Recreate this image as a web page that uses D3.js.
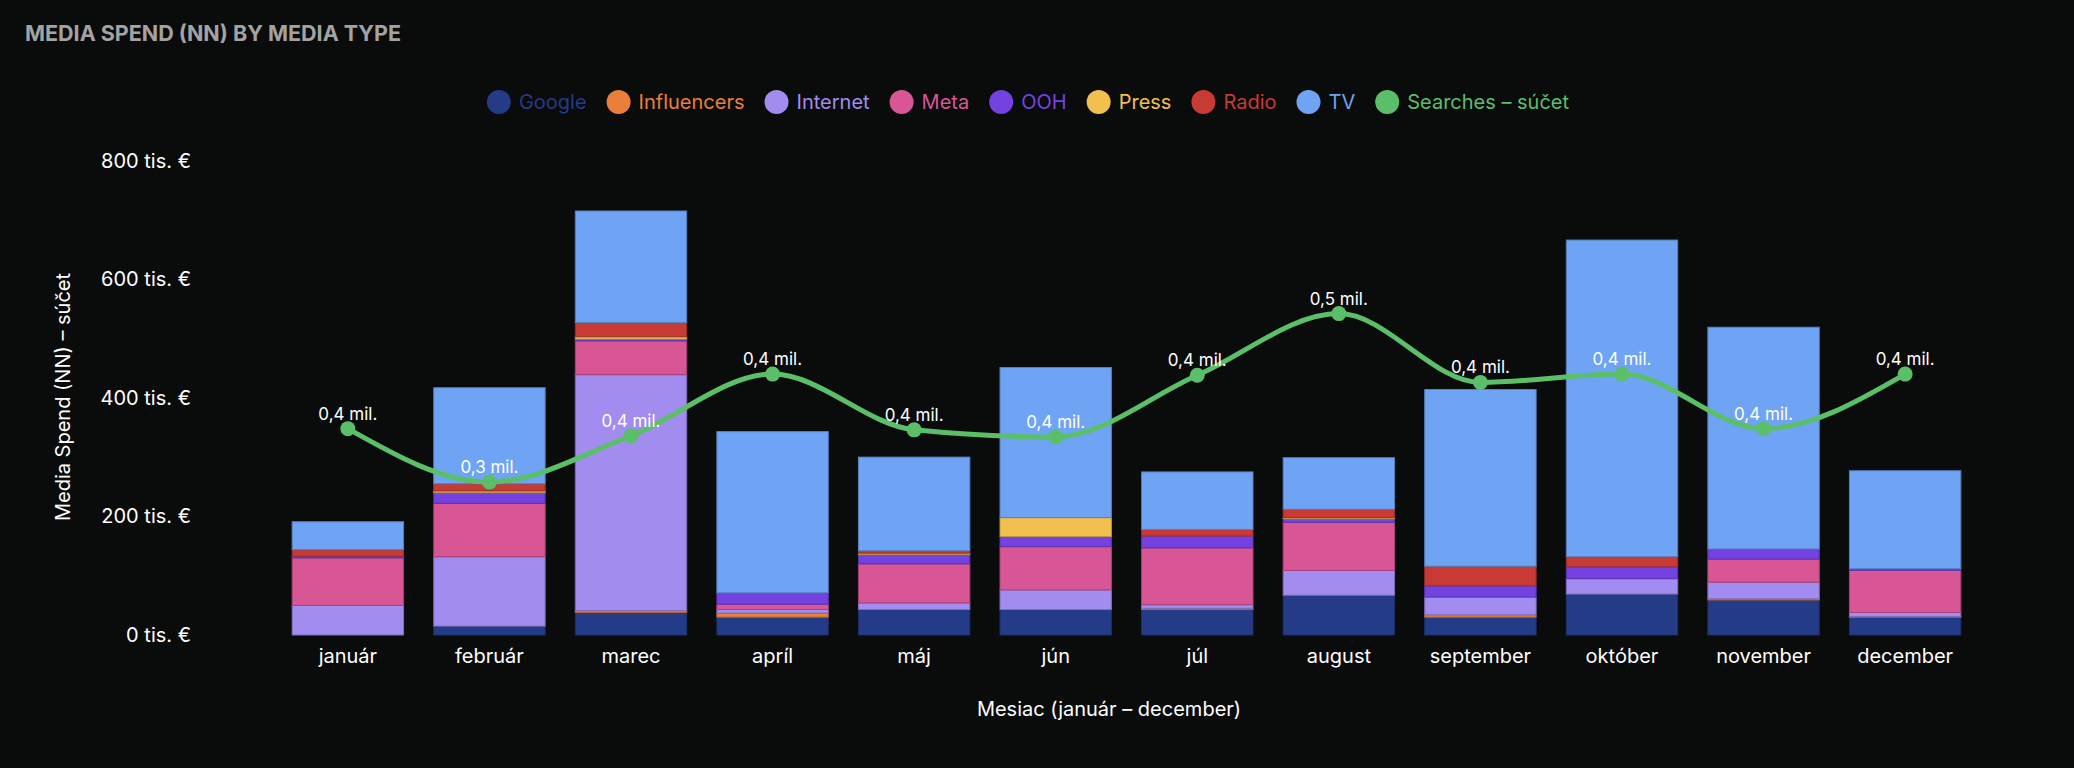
<!DOCTYPE html>
<html>
<head>
<meta charset="utf-8">
<script src="https://cdn.jsdelivr.net/npm/d3@7"></script>
<style>
  html, body { margin: 0; padding: 0; background: #0a0b0b; }
  svg { display: block; font-family: Inter, "Noto Sans", sans-serif; }
</style>
</head>
<body>
<div class="chart"></div>
<script>
(function () {
  var months = ['január', 'február', 'marec', 'apríl', 'máj', 'jún', 'júl', 'august', 'september', 'október', 'november', 'december'];

  // media spend in tis. €
  var google      = [0, 15, 38, 30, 43, 43, 43, 67, 30, 69, 59, 30];
  var influencers = [0, 0, 3, 7, 0, 0, 2, 0, 4, 0, 2, 1];
  var internet    = [50, 117, 398, 6, 11, 33, 6, 42, 30, 26, 28, 7];
  var meta        = [80, 90, 57, 9, 66, 73, 96, 81, 0, 0, 39, 71];
  var ooh         = [3, 18, 3, 19, 16, 17, 20, 6, 19, 20, 17, 3];
  var press       = [0, 3, 4, 0, 2, 32, 0, 2, 0, 0, 0, 0];
  var radio       = [11, 12, 24, 0, 4, 0, 11, 14, 33, 17, 0, 0];
  var tv          = [47, 162, 188, 272, 158, 253, 97, 87, 298, 534, 374, 165];

  // searches - súčet
  var searches = [374000, 329000, 368000, 420000, 373000, 367000, 419000, 471000, 413000, 420000, 374000, 420000];

  var yTicks = [0, 200, 400, 600, 800];

  var types = ['Google', 'Influencers', 'Internet', 'Meta', 'OOH', 'Press', 'Radio', 'TV'];
  var series = [google, influencers, internet, meta, ooh, press, radio, tv];
  var colors = ['#243c88', '#ea7f3a', '#a28cef', '#d85696', '#7442e0', '#f2c04e', '#c83a34', '#6fa4f4'];
  var lineColor = '#5bbf6a';

  var rows = months.map(function (m, i) {
    var r = { month: m };
    types.forEach(function (t, k) { r[t] = series[k][i]; });
    return r;
  });

  var svg = d3.select('.chart').append('svg')
    .attr('width', 2074)
    .attr('height', 768);

  svg.append('rect')
    .attr('width', 2074)
    .attr('height', 768)
    .attr('fill', '#0a0b0b');

  var x = d3.scaleBand()
    .domain(months)
    .range([262, 1991])
    .paddingInner(0.213)
    .paddingOuter(0.213);
  var y = d3.scaleLinear()
    .domain([0, 800])
    .range([635, 160.6]);
  var y2 = d3.scaleLinear()
    .domain([200000, 600000])
    .range([635, 160.6]);

  // title
  svg.append('text')
    .attr('x', 25)
    .attr('y', 41)
    .attr('fill', '#a3a3a3')
    .attr('font-size', '21.5px')
    .attr('font-weight', 700)
    .text('MEDIA SPEND (NN) BY MEDIA TYPE');

  // legend
  var legendItems = types.map(function (t, k) { return { name: t, color: colors[k] }; })
    .concat([{ name: 'Searches – súčet', color: lineColor }]);
  var legend = svg.append('g').attr('class', 'legend');
  var lx = 0;
  legendItems.forEach(function (d) {
    var item = legend.append('g').attr('transform', 'translate(' + lx + ',0)');
    item.append('circle')
      .attr('cx', 12)
      .attr('cy', 0)
      .attr('r', 12)
      .attr('fill', d.color);
    var t = item.append('text')
      .attr('x', 32)
      .attr('y', 0)
      .attr('dy', '0.35em')
      .attr('fill', d.color)
      .attr('font-size', '20px')
      .text(d.name);
    lx += 32 + t.node().getComputedTextLength() + 20;
  });
  lx -= 20;
  legend.attr('transform', 'translate(' + (1028 - lx / 2) + ',102)');

  // axes
  var axisLeft = d3.axisLeft(y)
    .tickValues(yTicks)
    .tickSize(0)
    .tickPadding(0)
    .tickFormat(function (d) { return d + ' tis. €'; });
  var gy = svg.append('g')
    .attr('class', 'axis axis--y')
    .attr('transform', 'translate(191,0)')
    .call(axisLeft);
  gy.select('.domain').remove();
  gy.selectAll('text')
    .attr('fill', '#ffffff')
    .attr('font-size', '20px')
    .attr('font-family', 'Inter, sans-serif');

  var axisBottom = d3.axisBottom(x)
    .tickSize(0)
    .tickPadding(14);
  var gx = svg.append('g')
    .attr('class', 'axis axis--x')
    .attr('transform', 'translate(0,635)')
    .call(axisBottom);
  gx.select('.domain').remove();
  gx.selectAll('text')
    .attr('fill', '#ffffff')
    .attr('font-size', '20px')
    .attr('font-family', 'Inter, sans-serif');

  // axis labels
  svg.append('text')
    .attr('transform', 'translate(63,397) rotate(-90)')
    .attr('text-anchor', 'middle')
    .attr('dy', '0.35em')
    .attr('fill', '#ffffff')
    .attr('font-size', '20px')
    .text('Media Spend (NN) – súčet');
  svg.append('text')
    .attr('x', 1109)
    .attr('y', 716)
    .attr('text-anchor', 'middle')
    .attr('fill', '#ffffff')
    .attr('font-size', '20px')
    .text('Mesiac (január – december)');

  // stacked bars
  var stacked = d3.stack().keys(types)(rows);
  svg.append('g')
      .attr('class', 'bars')
    .selectAll('g')
    .data(stacked)
    .enter().append('g')
      .attr('fill', function (d, k) { return colors[k]; })
      .attr('stroke', function (d, k) { return d3.color(colors[k]).darker(0.7); })
      .attr('stroke-width', 1)
    .selectAll('rect')
    .data(function (d) { return d.filter(function (s) { return s[1] - s[0] > 0; }); })
    .enter().append('rect')
      .attr('x', function (d) { return x(d.data.month); })
      .attr('width', x.bandwidth())
      .attr('y', function (d) { return y(d[1]); })
      .attr('height', function (d) { return y(d[0]) - y(d[1]); });

  // searches line
  var pts = months.map(function (m, i) { return { month: m, v: searches[i] }; });
  var line = d3.line()
    .curve(d3.curveMonotoneX)
    .x(function (d) { return x(d.month) + x.bandwidth() / 2; })
    .y(function (d) { return y2(d.v); });
  var lg = svg.append('g').attr('class', 'searches');
  lg.append('path')
    .attr('d', line(pts))
    .attr('fill', 'none')
    .attr('stroke', lineColor)
    .attr('stroke-width', 5);
  lg.selectAll('circle')
    .data(pts)
    .enter().append('circle')
      .attr('cx', function (d) { return x(d.month) + x.bandwidth() / 2; })
      .attr('cy', function (d) { return y2(d.v); })
      .attr('r', 7.5)
      .attr('fill', lineColor);

  var sk = d3.formatLocale({ decimal: ',', thousands: ' ', grouping: [3], currency: ['', ' €'] });
  var fmt = sk.format('.1f');
  lg.selectAll('text')
    .data(pts)
    .enter().append('text')
      .attr('x', function (d) { return x(d.month) + x.bandwidth() / 2; })
      .attr('y', function (d) { return y2(d.v) - 9; })
      .attr('text-anchor', 'middle')
      .attr('fill', '#ffffff')
      .attr('font-size', '17px')
      .text(function (d) { return fmt(d.v / 1e6) + ' mil.'; });
})();
</script>
</body>
</html>
